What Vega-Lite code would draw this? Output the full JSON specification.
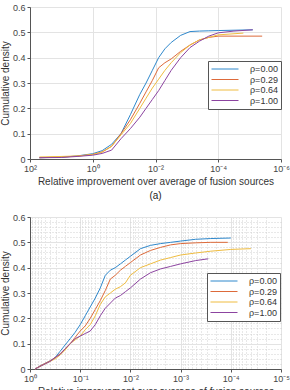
{
"$schema": "https://vega.github.io/schema/vega-lite/v6.json",
"padding": {"left": 0, "top": 3, "right": 2, "bottom": 0},
"config": {
  "font": "Liberation Sans",
  "view": {"stroke": null},
  "axis": {"labelFontSize": 9, "titleFontSize": 10, "titleFontWeight": "normal", "labelColor": "#444", "titleColor": "#333", "domainColor": "#555", "tickColor": "#555", "tickSize": 3, "gridColor": "#e3e3e3", "labelOverlap": false, "labelFlush": false, "labelPadding": 2},
  "legend": {"strokeColor": "#555", "fillColor": "white", "padding": 3, "symbolType": "M-3,0H3", "symbolSize": 81, "symbolStrokeWidth": 1, "symbolOffset": 9, "labelOffset": 20, "labelFontSize": 9, "labelColor": "#333", "rowPadding": 0.5},
  "line": {"strokeWidth": 1},
  "concat": {"spacing": 12}
},
"datasets": {
  "a": [
    {"s":"ρ=0.00","x":50.1,"y":0.005},{"s":"ρ=0.00","x":10,"y":0.007},{"s":"ρ=0.00","x":3.16,"y":0.012},{"s":"ρ=0.00","x":1,"y":0.021},{"s":"ρ=0.00","x":0.501,"y":0.033},{"s":"ρ=0.00","x":0.251,"y":0.058},{"s":"ρ=0.00","x":0.126,"y":0.1},{"s":"ρ=0.00","x":0.0631,"y":0.175},{"s":"ρ=0.00","x":0.0316,"y":0.255},{"s":"ρ=0.00","x":0.02,"y":0.3},{"s":"ρ=0.00","x":0.0126,"y":0.35},{"s":"ρ=0.00","x":0.00794,"y":0.4},{"s":"ρ=0.00","x":0.00501,"y":0.435},{"s":"ρ=0.00","x":0.00316,"y":0.46},{"s":"ρ=0.00","x":0.00158,"y":0.488},{"s":"ρ=0.00","x":0.000794,"y":0.503},{"s":"ρ=0.00","x":0.000398,"y":0.505},{"s":"ρ=0.00","x":0.0002,"y":0.506},{"s":"ρ=0.00","x":0.0001,"y":0.507},{"s":"ρ=0.00","x":0.00000794,"y":0.51},
    {"s":"ρ=0.29","x":50.1,"y":0.005},{"s":"ρ=0.29","x":10,"y":0.008},{"s":"ρ=0.29","x":3.16,"y":0.011},{"s":"ρ=0.29","x":1,"y":0.018},{"s":"ρ=0.29","x":0.501,"y":0.028},{"s":"ρ=0.29","x":0.251,"y":0.05},{"s":"ρ=0.29","x":0.126,"y":0.1},{"s":"ρ=0.29","x":0.0631,"y":0.155},{"s":"ρ=0.29","x":0.0316,"y":0.22},{"s":"ρ=0.29","x":0.02,"y":0.265},{"s":"ρ=0.29","x":0.0126,"y":0.31},{"s":"ρ=0.29","x":0.00794,"y":0.36},{"s":"ρ=0.29","x":0.00501,"y":0.38},{"s":"ρ=0.29","x":0.00316,"y":0.395},{"s":"ρ=0.29","x":0.00158,"y":0.425},{"s":"ρ=0.29","x":0.000794,"y":0.45},{"s":"ρ=0.29","x":0.000398,"y":0.47},{"s":"ρ=0.29","x":0.0002,"y":0.48},{"s":"ρ=0.29","x":0.0001,"y":0.485},{"s":"ρ=0.29","x":0.00000398,"y":0.485},
    {"s":"ρ=0.64","x":50.1,"y":0.008},{"s":"ρ=0.64","x":10,"y":0.01},{"s":"ρ=0.64","x":3.16,"y":0.012},{"s":"ρ=0.64","x":1,"y":0.018},{"s":"ρ=0.64","x":0.501,"y":0.027},{"s":"ρ=0.64","x":0.251,"y":0.05},{"s":"ρ=0.64","x":0.126,"y":0.095},{"s":"ρ=0.64","x":0.0631,"y":0.14},{"s":"ρ=0.64","x":0.0316,"y":0.2},{"s":"ρ=0.64","x":0.02,"y":0.24},{"s":"ρ=0.64","x":0.0126,"y":0.28},{"s":"ρ=0.64","x":0.00794,"y":0.315},{"s":"ρ=0.64","x":0.00501,"y":0.35},{"s":"ρ=0.64","x":0.00316,"y":0.38},{"s":"ρ=0.64","x":0.00158,"y":0.42},{"s":"ρ=0.64","x":0.000794,"y":0.45},{"s":"ρ=0.64","x":0.000398,"y":0.47},{"s":"ρ=0.64","x":0.0002,"y":0.48},{"s":"ρ=0.64","x":0.0001,"y":0.49},{"s":"ρ=0.64","x":0.0000158,"y":0.497},
    {"s":"ρ=1.00","x":50.1,"y":0.005},{"s":"ρ=1.00","x":10,"y":0.006},{"s":"ρ=1.00","x":3.16,"y":0.01},{"s":"ρ=1.00","x":1,"y":0.015},{"s":"ρ=1.00","x":0.501,"y":0.022},{"s":"ρ=1.00","x":0.251,"y":0.035},{"s":"ρ=1.00","x":0.126,"y":0.08},{"s":"ρ=1.00","x":0.0631,"y":0.12},{"s":"ρ=1.00","x":0.0316,"y":0.165},{"s":"ρ=1.00","x":0.02,"y":0.2},{"s":"ρ=1.00","x":0.0126,"y":0.235},{"s":"ρ=1.00","x":0.00794,"y":0.27},{"s":"ρ=1.00","x":0.00501,"y":0.31},{"s":"ρ=1.00","x":0.00316,"y":0.35},{"s":"ρ=1.00","x":0.00158,"y":0.4},{"s":"ρ=1.00","x":0.000794,"y":0.44},{"s":"ρ=1.00","x":0.000398,"y":0.465},{"s":"ρ=1.00","x":0.0002,"y":0.485},{"s":"ρ=1.00","x":0.0001,"y":0.498},{"s":"ρ=1.00","x":0.0000316,"y":0.505},{"s":"ρ=1.00","x":0.00000794,"y":0.51}
  ],
  "b": [
    {"s":"ρ=0.00","x":0.794,"y":0},{"s":"ρ=0.00","x":0.631,"y":0.012},{"s":"ρ=0.00","x":0.501,"y":0.022},{"s":"ρ=0.00","x":0.398,"y":0.032},{"s":"ρ=0.00","x":0.316,"y":0.045},{"s":"ρ=0.00","x":0.251,"y":0.07},{"s":"ρ=0.00","x":0.1995,"y":0.095},{"s":"ρ=0.00","x":0.158,"y":0.12},{"s":"ρ=0.00","x":0.126,"y":0.145},{"s":"ρ=0.00","x":0.1,"y":0.175},{"s":"ρ=0.00","x":0.0794,"y":0.21},{"s":"ρ=0.00","x":0.0631,"y":0.245},{"s":"ρ=0.00","x":0.0501,"y":0.28},{"s":"ρ=0.00","x":0.0398,"y":0.32},{"s":"ρ=0.00","x":0.0316,"y":0.37},{"s":"ρ=0.00","x":0.0251,"y":0.39},{"s":"ρ=0.00","x":0.02,"y":0.4},{"s":"ρ=0.00","x":0.0158,"y":0.415},{"s":"ρ=0.00","x":0.0126,"y":0.43},{"s":"ρ=0.00","x":0.01,"y":0.445},{"s":"ρ=0.00","x":0.00631,"y":0.475},{"s":"ρ=0.00","x":0.00398,"y":0.488},{"s":"ρ=0.00","x":0.00251,"y":0.495},{"s":"ρ=0.00","x":0.00158,"y":0.5},{"s":"ρ=0.00","x":0.001,"y":0.505},{"s":"ρ=0.00","x":0.000501,"y":0.512},{"s":"ρ=0.00","x":0.000251,"y":0.515},{"s":"ρ=0.00","x":0.0001,"y":0.517},
    {"s":"ρ=0.29","x":0.794,"y":0},{"s":"ρ=0.29","x":0.631,"y":0.012},{"s":"ρ=0.29","x":0.501,"y":0.022},{"s":"ρ=0.29","x":0.398,"y":0.032},{"s":"ρ=0.29","x":0.316,"y":0.045},{"s":"ρ=0.29","x":0.251,"y":0.06},{"s":"ρ=0.29","x":0.1995,"y":0.08},{"s":"ρ=0.29","x":0.158,"y":0.1},{"s":"ρ=0.29","x":0.126,"y":0.125},{"s":"ρ=0.29","x":0.1,"y":0.15},{"s":"ρ=0.29","x":0.0794,"y":0.17},{"s":"ρ=0.29","x":0.0631,"y":0.2},{"s":"ρ=0.29","x":0.0501,"y":0.235},{"s":"ρ=0.29","x":0.0398,"y":0.27},{"s":"ρ=0.29","x":0.0316,"y":0.31},{"s":"ρ=0.29","x":0.0251,"y":0.355},{"s":"ρ=0.29","x":0.02,"y":0.37},{"s":"ρ=0.29","x":0.0158,"y":0.39},{"s":"ρ=0.29","x":0.0126,"y":0.405},{"s":"ρ=0.29","x":0.01,"y":0.42},{"s":"ρ=0.29","x":0.00631,"y":0.45},{"s":"ρ=0.29","x":0.00398,"y":0.468},{"s":"ρ=0.29","x":0.00251,"y":0.48},{"s":"ρ=0.29","x":0.00158,"y":0.49},{"s":"ρ=0.29","x":0.001,"y":0.495},{"s":"ρ=0.29","x":0.000501,"y":0.498},{"s":"ρ=0.29","x":0.000251,"y":0.5},{"s":"ρ=0.29","x":0.000115,"y":0.5},
    {"s":"ρ=0.64","x":0.794,"y":0},{"s":"ρ=0.64","x":0.631,"y":0.01},{"s":"ρ=0.64","x":0.501,"y":0.02},{"s":"ρ=0.64","x":0.398,"y":0.03},{"s":"ρ=0.64","x":0.316,"y":0.04},{"s":"ρ=0.64","x":0.251,"y":0.055},{"s":"ρ=0.64","x":0.1995,"y":0.075},{"s":"ρ=0.64","x":0.158,"y":0.1},{"s":"ρ=0.64","x":0.126,"y":0.115},{"s":"ρ=0.64","x":0.1,"y":0.13},{"s":"ρ=0.64","x":0.0794,"y":0.155},{"s":"ρ=0.64","x":0.0631,"y":0.175},{"s":"ρ=0.64","x":0.0501,"y":0.21},{"s":"ρ=0.64","x":0.0398,"y":0.255},{"s":"ρ=0.64","x":0.0316,"y":0.285},{"s":"ρ=0.64","x":0.0251,"y":0.3},{"s":"ρ=0.64","x":0.02,"y":0.315},{"s":"ρ=0.64","x":0.0158,"y":0.325},{"s":"ρ=0.64","x":0.0126,"y":0.34},{"s":"ρ=0.64","x":0.01,"y":0.37},{"s":"ρ=0.64","x":0.00631,"y":0.4},{"s":"ρ=0.64","x":0.00398,"y":0.415},{"s":"ρ=0.64","x":0.00251,"y":0.43},{"s":"ρ=0.64","x":0.00158,"y":0.44},{"s":"ρ=0.64","x":0.001,"y":0.45},{"s":"ρ=0.64","x":0.000501,"y":0.458},{"s":"ρ=0.64","x":0.000251,"y":0.465},{"s":"ρ=0.64","x":0.0001,"y":0.472},{"s":"ρ=0.64","x":0.0000398,"y":0.475},
    {"s":"ρ=1.00","x":0.794,"y":0},{"s":"ρ=1.00","x":0.631,"y":0.01},{"s":"ρ=1.00","x":0.501,"y":0.02},{"s":"ρ=1.00","x":0.398,"y":0.03},{"s":"ρ=1.00","x":0.316,"y":0.045},{"s":"ρ=1.00","x":0.251,"y":0.058},{"s":"ρ=1.00","x":0.1995,"y":0.08},{"s":"ρ=1.00","x":0.158,"y":0.1},{"s":"ρ=1.00","x":0.126,"y":0.12},{"s":"ρ=1.00","x":0.1,"y":0.13},{"s":"ρ=1.00","x":0.0794,"y":0.14},{"s":"ρ=1.00","x":0.0631,"y":0.15},{"s":"ρ=1.00","x":0.0501,"y":0.175},{"s":"ρ=1.00","x":0.0398,"y":0.21},{"s":"ρ=1.00","x":0.0316,"y":0.24},{"s":"ρ=1.00","x":0.0251,"y":0.26},{"s":"ρ=1.00","x":0.02,"y":0.28},{"s":"ρ=1.00","x":0.0158,"y":0.29},{"s":"ρ=1.00","x":0.0126,"y":0.305},{"s":"ρ=1.00","x":0.01,"y":0.32},{"s":"ρ=1.00","x":0.00631,"y":0.355},{"s":"ρ=1.00","x":0.00398,"y":0.38},{"s":"ρ=1.00","x":0.00251,"y":0.395},{"s":"ρ=1.00","x":0.00158,"y":0.405},{"s":"ρ=1.00","x":0.001,"y":0.415},{"s":"ρ=1.00","x":0.000501,"y":0.428},{"s":"ρ=1.00","x":0.000282,"y":0.435}
  ]
},
"resolve": {"scale": {"color": "independent"}, "legend": {"color": "independent"}},
"vconcat": [
  {
    "width": 251, "height": 152,
    "title": {"text": "(a)", "orient": "bottom", "fontSize": 10, "fontWeight": "normal", "color": "#222", "offset": 5},
    "data": {"name": "a"},
    "mark": {"type": "line"},
    "encoding": {
      "x": {"field": "x", "type": "quantitative",
        "scale": {"type": "log", "domain": [0.000001, 100], "reverse": true, "nice": false},
        "axis": {"values": [100, 1, 0.01, 0.0001, 0.000001], "title": "Relative improvement over average of fusion sources", "titlePadding": 3,
          "labelExpr": "['10⁻⁶','10⁻⁵','10⁻⁴','10⁻³','10⁻²','10⁻¹','10⁰','10¹','10²'][round(log(datum.value)/LN10)+6]"}},
      "y": {"field": "y", "type": "quantitative",
        "scale": {"domain": [0, 0.6], "nice": false},
        "axis": {"values": [0, 0.1, 0.2, 0.3, 0.4, 0.5, 0.6], "title": "Cumulative density", "titlePadding": 2,
          "labelExpr": "datum.value == 0 ? '0' : format(datum.value, '.1f')"}},
      "color": {"field": "s", "type": "nominal",
        "scale": {"domain": ["ρ=0.00", "ρ=0.29", "ρ=0.64", "ρ=1.00"], "range": ["#2f88cc", "#dd6a3a", "#efbc40", "#8c44a0"]},
        "legend": {"title": null, "orient": "none", "legendX": 178, "legendY": 54}}
    }
  },
  {
    "width": 251, "height": 152,
    "data": {"name": "b"},
    "mark": {"type": "line"},
    "encoding": {
      "x": {"field": "x", "type": "quantitative",
        "scale": {"type": "log", "domain": [0.00001, 1], "reverse": true, "nice": false},
        "axis": {"values": [1,0.9,0.8,0.7,0.6,0.5,0.4,0.3,0.2,0.1,0.09,0.08,0.07,0.06,0.05,0.04,0.03,0.02,0.01,0.009,0.008,0.007,0.006,0.005,0.004,0.003,0.002,0.001,0.0009,0.0008,0.0007,0.0006,0.0005,0.0004,0.0003,0.0002,0.0001,0.00009,0.00008,0.00007,0.00006,0.00005,0.00004,0.00003,0.00002,0.00001],
          "title": "Relative improvement over average of fusion sources", "titlePadding": 3,
          "labelExpr": "abs(log(datum.value)/LN10 - round(log(datum.value)/LN10)) > 0.01 ? '' : ['10⁻⁵','10⁻⁴','10⁻³','10⁻²','10⁻¹','10⁰'][round(log(datum.value)/LN10)+5]",
          "gridDash": {"condition": {"test": "abs(log(datum.value)/LN10 - round(log(datum.value)/LN10)) > 0.01", "value": [1, 2]}, "value": []},
          "gridColor": {"condition": {"test": "abs(log(datum.value)/LN10 - round(log(datum.value)/LN10)) > 0.01", "value": "#d0d0d0"}, "value": "#e3e3e3"},
          "tickOpacity": {"condition": {"test": "abs(log(datum.value)/LN10 - round(log(datum.value)/LN10)) > 0.01", "value": 0}, "value": 1}}},
      "y": {"field": "y", "type": "quantitative",
        "scale": {"domain": [0, 0.6], "nice": false},
        "axis": {"values": [0,0.02,0.04,0.06,0.08,0.1,0.12,0.14,0.16,0.18,0.2,0.22,0.24,0.26,0.28,0.3,0.32,0.34,0.36,0.38,0.4,0.42,0.44,0.46,0.48,0.5,0.52,0.54,0.56,0.58,0.6],
          "title": "Cumulative density", "titlePadding": 2,
          "labelExpr": "abs(datum.value*10 - round(datum.value*10)) > 0.001 ? '' : (datum.value == 0 ? '0' : format(datum.value, '.1f'))",
          "gridDash": {"condition": {"test": "abs(datum.value*10 - round(datum.value*10)) > 0.001", "value": [1, 2]}, "value": []},
          "gridColor": {"condition": {"test": "abs(datum.value*10 - round(datum.value*10)) > 0.001", "value": "#d0d0d0"}, "value": "#e3e3e3"},
          "tickOpacity": {"condition": {"test": "abs(datum.value*10 - round(datum.value*10)) > 0.001", "value": 0}, "value": 1}}},
      "color": {"field": "s", "type": "nominal",
        "scale": {"domain": ["ρ=0.00", "ρ=0.29", "ρ=0.64", "ρ=1.00"], "range": ["#2f88cc", "#dd6a3a", "#efbc40", "#8c44a0"]},
        "legend": {"title": null, "orient": "none", "legendX": 177, "legendY": 56}}
    }
  }
]
}
